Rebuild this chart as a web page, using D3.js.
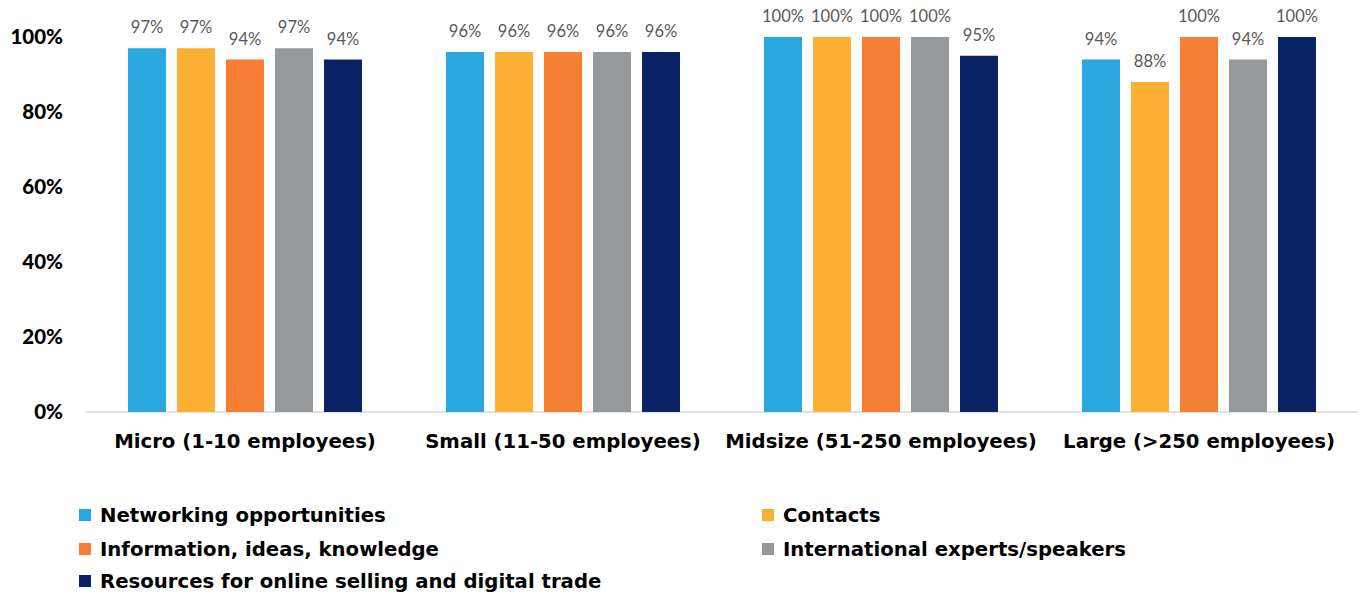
<!DOCTYPE html>
<html>
<head>
<meta charset="utf-8">
<script src="https://cdn.jsdelivr.net/npm/d3@7"></script>
<style>
  html, body { margin: 0; padding: 0; background: #fff; }
  svg { display: block; font-family: Lato, "Open Sans", sans-serif; }
</style>
</head>
<body>
<svg id="chart" width="1361" height="598"></svg>
<script>
// data
var categories = ['Micro (1-10 employees)', 'Small (11-50 employees)', 'Midsize (51-250 employees)', 'Large (>250 employees)'];
var seriesNames = ['Networking opportunities', 'Contacts', 'Information, ideas, knowledge', 'International experts/speakers', 'Resources for online selling and digital trade'];
var seriesColors = ['#29a8e0', '#fbb034', '#f77f35', '#96999c', '#0a2266'];
var networking = [97, 96, 100, 94];
var contacts = [97, 96, 100, 88];
var information = [94, 96, 100, 100];
var experts = [97, 96, 100, 94];
var resources = [94, 96, 95, 100];
var yTicks = [0, 20, 40, 60, 80, 100];

var allSeries = [networking, contacts, information, experts, resources];
var boldFont = '"DejaVu Sans", sans-serif';

var svg = d3.select('#chart');

var x0 = d3.scaleBand().domain(categories).range([86, 1358]);
var bw = x0.bandwidth();
var x1 = d3.scaleBand().domain(d3.range(seriesNames.length))
  .range([bw / 2 - 117, bw / 2 + 117])
  .paddingInner(11 / 49).paddingOuter(0);
var y = d3.scaleLinear().domain([0, 100]).range([412, 37]);

// y axis labels
var yAxis = d3.axisLeft(y).tickValues(yTicks).tickSize(0).tickPadding(0)
  .tickFormat(function(d) { return d + '%'; });
var gy = svg.append('g').attr('transform', 'translate(63,0)').call(yAxis);
gy.select('.domain').remove();
gy.selectAll('text')
  .attr('font-family', 'Lato, sans-serif')
  .attr('font-size', 20.5).attr('font-weight', 900).attr('fill', '#000');

// baseline
svg.append('line')
  .attr('x1', 86).attr('x2', 1358)
  .attr('y1', y(0)).attr('y2', y(0))
  .attr('stroke', '#d9d9d9').attr('stroke-width', 1.5);

// bars
var groups = svg.selectAll('g.grp').data(categories).enter().append('g')
  .attr('class', 'grp')
  .attr('transform', function(d) { return 'translate(' + x0(d) + ',0)'; });

groups.each(function(cat, ci) {
  var g = d3.select(this);
  var vals = allSeries.map(function(s, si) { return { si: si, v: s[ci] }; });
  g.selectAll('rect').data(vals).enter().append('rect')
    .attr('x', function(d) { return x1(d.si); })
    .attr('width', x1.bandwidth())
    .attr('y', function(d) { return y(d.v); })
    .attr('height', function(d) { return y(0) - y(d.v); })
    .attr('fill', function(d) { return seriesColors[d.si]; });
  g.selectAll('text.lbl').data(vals).enter().append('text')
    .attr('class', 'lbl')
    .attr('x', function(d) { return x1(d.si) + x1.bandwidth() / 2; })
    .attr('y', function(d) { return y(d.v) - 15; })
    .attr('text-anchor', 'middle')
    .attr('font-size', 16.5).attr('fill', '#595959')
    .text(function(d) { return d.v + '%'; });
});

// x axis labels
var xAxis = d3.axisBottom(x0).tickSize(0).tickPadding(0);
var gx = svg.append('g').attr('transform', 'translate(0,434)').call(xAxis);
gx.select('.domain').remove();
gx.selectAll('text')
  .attr('font-family', boldFont)
  .attr('font-size', 19.7).attr('font-weight', 700).attr('fill', '#000');

// legend
var legendPos = [[79, 515], [762, 515], [79, 549], [762, 549], [79, 581]];
var leg = svg.selectAll('g.leg').data(seriesNames).enter().append('g')
  .attr('class', 'leg')
  .attr('transform', function(d, i) { return 'translate(' + legendPos[i][0] + ',' + legendPos[i][1] + ')'; });
leg.append('rect').attr('x', 0).attr('y', -6).attr('width', 12).attr('height', 12)
  .attr('fill', function(d, i) { return seriesColors[i]; });
leg.append('text').attr('x', 21).attr('y', 7)
  .attr('font-family', boldFont)
  .attr('font-size', 19.7).attr('font-weight', 700).attr('fill', '#000')
  .text(function(d) { return d; });
</script>
</body>
</html>
